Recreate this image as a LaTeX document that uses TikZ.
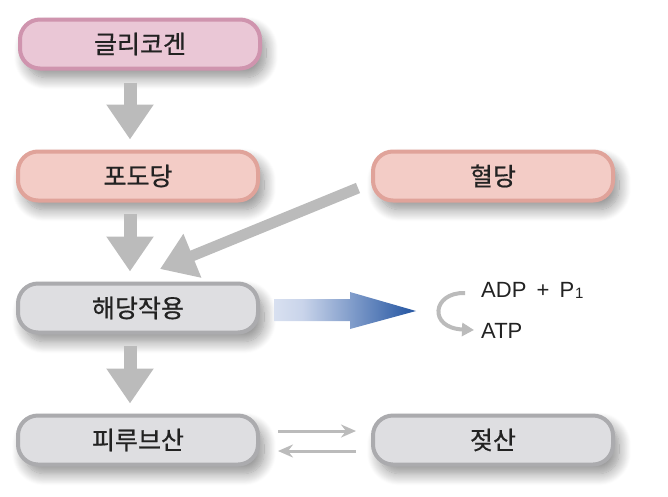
\documentclass[tikz,border=0pt]{standalone}
\usepackage{fontspec}
\setmainfont{Liberation Sans}
\newfontfamily\kr[FakeBold=0.7]{Noto Sans CJK KR}
\usetikzlibrary{arrows.meta,shadows.blur}
\definecolor{pinkfill}{HTML}{EAC7D6}
\definecolor{pinkline}{HTML}{CF94AE}
\definecolor{salfill}{HTML}{F3CCC6}
\definecolor{salline}{HTML}{E0A39A}
\definecolor{grayfill}{HTML}{DEDEE1}
\definecolor{grayline}{HTML}{ABABAE}
\definecolor{arrowgray}{HTML}{BBBBBB}
\definecolor{txt}{HTML}{222222}
\definecolor{blueA}{HTML}{C9D4EA}
\definecolor{blueB}{HTML}{2E5DA6}
\pgfdeclarehorizontalshading{bluefade}{100bp}{color(0bp)=(white); color(35bp)=(blueA); color(72bp)=(blueB); color(100bp)=(blueB)}
\tikzset{
  box/.style={rounded corners=20pt, minimum width=240pt, minimum height=49pt,
    line width=4pt, font=\kr\fontsize{25}{28}\selectfont, text=txt,
    blur shadow={shadow xshift=6pt, shadow yshift=-9pt, shadow blur radius=12pt, shadow blur steps=14, shadow opacity=45}},
  pinkbox/.style={box, draw=pinkline, fill=pinkfill},
  salbox/.style={box, draw=salline, fill=salfill},
  graybox/.style={box, draw=grayline, fill=grayfill},
  blockarrow/.style={draw=arrowgray, line width=13pt, -{Triangle[length=35pt,width=45pt]}},
  thinarrow/.style={draw=arrowgray, line width=3pt, -{Stealth[length=15pt,width=13pt,inset=5pt]}},
  curvearrow/.style={draw=arrowgray, line width=4pt, -{Triangle[length=12pt,width=13pt]}},
  lbl/.style={font=\fontsize{22}{24}\selectfont, text=txt, anchor=west, inner sep=0pt}
}
\begin{document}
\begin{tikzpicture}[x=1pt,y=-1pt]
\useasboundingbox (0,0) rectangle (668,496);
\node[pinkbox] (gly) at (140,44) {글리코겐};
\node[salbox] (glu) at (138,176) {포도당};
\node[salbox] (bld) at (493,176) {혈당};
\node[graybox] (gl) at (138,308) {해당작용};
\node[graybox] (pyr) at (138,440) {피루브산};
\node[graybox] (lac) at (493,440) {젖산};
% vertical block arrows
\draw[blockarrow, shorten <=12pt, shorten >=10pt] ([xshift=-10pt]gly.south) -- ([xshift=-8pt]glu.north);
\draw[blockarrow, shorten <=11pt, shorten >=10pt] ([xshift=-8pt]glu.south) -- ([xshift=-8pt]gl.north);
\draw[blockarrow, shorten <=11pt, shorten >=10pt] ([xshift=-8pt]gl.south) -- ([xshift=-8pt]pyr.north);
% diagonal arrow
\coordinate (dstart) at (358,188);
\coordinate (dtip) at (160,269);
\draw[blockarrow, line width=11pt] (dstart) -- (dtip);
% blue arrow
\shade[shading=bluefade] (274,299) -- (350,299) -- (350,292) -- (416,311) -- (350,329) -- (350,321) -- (274,321) -- cycle;
% ADP / ATP
\node[lbl, anchor=base west] (adp) at (481,297) {ADP\hspace{4pt} + \hspace{4pt}P\kern1pt\raisebox{-1pt}{\fontsize{15}{16}\selectfont 1}};
\node[lbl, anchor=base west] (atp) at (481,338) {ATP};
\coordinate (cstart) at (465,293);
\coordinate (cend) at (474,330);
\draw[curvearrow] (cstart) .. controls (432,292) and (428,328) .. (cend);
% double arrows
\draw[thinarrow] ([yshift=9pt,xshift=18pt]pyr.east) -- ([yshift=9pt,xshift=-15pt]lac.west);
\draw[thinarrow] ([yshift=-11pt,xshift=-15pt]lac.west) -- ([yshift=-11pt,xshift=18pt]pyr.east);
\end{tikzpicture}
\end{document}
